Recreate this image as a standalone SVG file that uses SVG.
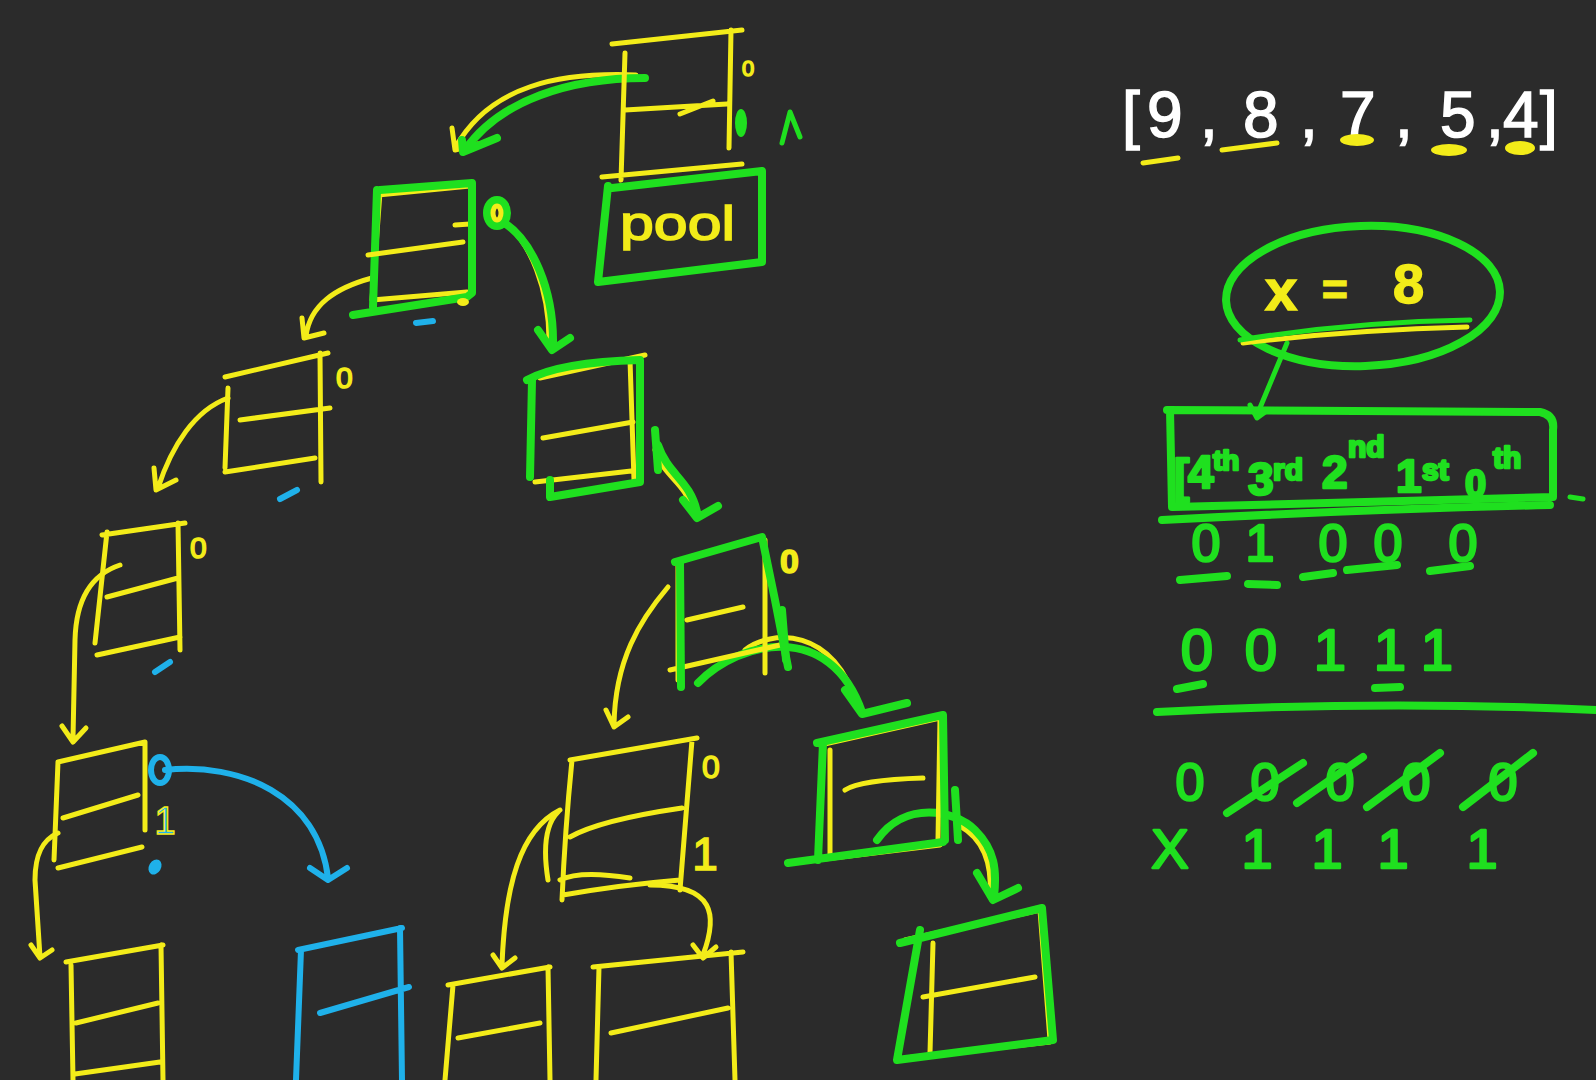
<svg xmlns="http://www.w3.org/2000/svg" width="1596" height="1080" viewBox="0 0 1596 1080">
<defs>
<style>
.y{fill:none;stroke:#f3ec19;stroke-width:5;stroke-linecap:round;stroke-linejoin:round}
.g{fill:none;stroke:#1fe01f;stroke-width:8;stroke-linecap:round;stroke-linejoin:round}
.gt{fill:none;stroke:#1fe01f;stroke-width:5;stroke-linecap:round;stroke-linejoin:round}
.b{fill:none;stroke:#1fb1ea;stroke-width:6;stroke-linecap:round;stroke-linejoin:round}
.ty{fill:#f3ec19;stroke:#f3ec19;stroke-width:1.5;font-family:"Liberation Sans","DejaVu Sans",sans-serif}
.tg{fill:#1fe01f;stroke:#1fe01f;stroke-width:2.5;stroke-linejoin:round;font-family:"Liberation Sans","DejaVu Sans",sans-serif}
.tb{fill:#1fb1ea;font-family:"Liberation Sans","DejaVu Sans",sans-serif}
.tw{fill:#ffffff;stroke:#ffffff;stroke-width:1.5;font-family:"Liberation Sans","DejaVu Sans",sans-serif}
.fy{fill:#f3ec19}.fg{fill:#1fe01f}.fb{fill:#1fb1ea}
</style>
</defs>
<rect width="1596" height="1080" fill="#2b2b2b"/>

<g id="connectors">
  <path class="y" d="M636 75 C560 72 490 85 455 148 M452 128 L455 150 L478 144"/>
  <path class="g" d="M645 78 C570 78 500 100 465 150 M462 140 L463 152 L497 138"/>
  <path class="y" d="M372 278 C335 288 310 305 306 336 M302 318 L304 338 L324 333"/>
  <path class="y" d="M503 222 C530 240 550 290 549 345"/>
  <path class="g" d="M503 222 C532 240 554 290 553 345 M538 330 L552 350 L570 338"/>
  <path class="y" d="M228 398 C195 410 172 445 158 488 M154 468 L156 490 L176 480"/>
  <path class="y" d="M655 450 C664 478 686 482 693 512"/>
  <path class="g" d="M658 445 C668 475 690 480 697 512 M683 500 L697 518 L718 506"/>
  <path class="y" d="M120 565 C90 575 76 600 75 640 L73 738 M62 726 L73 742 L86 728"/>
  <path class="y" d="M668 587 C640 620 615 660 614 725 M606 710 L614 727 L628 717"/>
  <path class="y" d="M745 650 C770 630 835 625 858 708"/>
  <path class="g" d="M698 683 C740 640 830 620 862 712 M845 690 L862 714 L907 703"/>
  <path class="y" d="M58 833 C42 840 35 855 35 880 L40 957 M31 945 L40 958 L52 950"/>
  <path class="b" d="M165 770 C240 762 318 795 328 878 M310 868 L328 880 L347 868"/>
  <path class="y" d="M560 810 C520 830 505 885 502 965 M493 955 L502 968 L515 958"/>
  <path class="y" d="M650 885 C715 885 718 915 703 955 M693 945 L703 958 L716 947"/>
  <path class="y" d="M960 826 C985 840 992 865 990 895"/>
  <path class="g" d="M877 840 C905 800 955 810 975 830 C995 850 997 870 994 897 M977 873 L993 900 L1018 888"/>
  <path class="gt" d="M1287 343 L1257 415 M1250 405 L1257 418 L1268 410"/>
</g>

<g id="node-root">
  <path class="y" d="M612 44 L742 30 M625 53 L621 180 M731 30 L729 148 M625 110 L727 104 M680 114 L713 101 M602 177 L742 164"/>
  <text class="ty" x="742" y="76" font-size="22" stroke-width="0.8">0</text>
  <ellipse class="fg" cx="741" cy="123" rx="6" ry="14"/>
  <path class="gt" d="M782 143 L790 112 L800 137"/>
</g>

<g id="node-pool">
  <path class="g" stroke-width="9" d="M612 188 L762 171 L762 262 L598 282 L608 186"/>
  <text class="ty" x="620" y="240" font-size="48" textLength="115" lengthAdjust="spacingAndGlyphs">pool</text>
</g>

<g id="node-a">
  <path class="y" d="M378 195 L470 186 M380 192 L372 300 M372 300 L467 292 M455 225 L470 224"/>
  <path class="g" stroke-width="9" d="M380 190 L472 183 L472 293 L467 297 L353 315 M377 190 L373 307"/>
  <path class="y" d="M368 255 L463 242"/>
  <ellipse class="g" cx="497" cy="213" rx="10" ry="13" stroke-width="7"/>
  <ellipse class="y" cx="497" cy="213" rx="4" ry="7" stroke-width="3"/>
  <path class="b" d="M416 323 L433 321" stroke-width="5"/>
  <ellipse class="fy" cx="463" cy="302" rx="6" ry="4"/>
</g>

<g id="node-b">
  <path class="y" d="M225 377 L328 353 M320 353 L321 482 M228 388 L225 468 M240 420 L330 408 M225 472 L315 458"/>
  <text class="ty" x="336" y="388" font-size="30">0</text>
  <path class="b" d="M280 499 L297 490" stroke-width="9"/>
</g>

<g id="node-c">
  <path class="y" d="M540 378 L645 355 M532 385 L530 477 M535 482 L640 470 M630 360 L634 480"/>
  <path class="g" stroke-width="9" d="M527 380 Q560 362 640 360 L640 482 L550 497 L550 480 M532 380 L530 477"/>
  <path class="y" d="M543 438 L633 422"/>
  <path class="g" stroke-width="12" d="M655 430 L658 470"/>
</g>

<g id="node-d">
  <path class="y" d="M102 535 L185 523 M178 523 L180 650 M107 532 L95 643 M107 597 L178 578 M97 655 L180 637"/>
  <text class="ty" x="190" y="558" font-size="30">0</text>
  <path class="b" d="M155 672 L170 662" stroke-width="9"/>
</g>

<g id="node-e">
  <path class="y" d="M675 562 L762 537 M678 565 L678 680 M670 670 L780 645 M765 540 L765 673"/>
  <path class="g" stroke-width="8" d="M675 562 L762 537 L775 600 L788 667 M680 562 L681 687"/>
  <path class="y" d="M687 620 L743 607"/>
  <path class="g" stroke-width="12" d="M782 610 L786 660"/>
  <text class="ty" x="780" y="573" font-size="34" font-weight="bold" stroke-width="3">0</text>
</g>

<g id="node-f">
  <path class="y" d="M58 762 L145 742 M145 742 L145 830 M58 762 L54 860 M63 818 L138 795 M58 868 L142 847"/>
  <ellipse class="b" cx="160" cy="770" rx="9" ry="13" stroke-width="6"/>
  <text class="tb" x="165" y="834" font-size="38" text-anchor="middle" stroke="#f3ec19" stroke-width="1.5">1</text>
  <ellipse class="fb" cx="155" cy="867" rx="6" ry="8" transform="rotate(30 155 867)"/>
</g>

<g id="node-g">
  <path class="y" d="M570 760 L697 738 M692 740 L680 890 M572 760 Q565 830 562 900 M570 837 Q600 820 682 808 M563 895 Q620 885 680 880 M560 880 Q580 870 630 878 M558 812 Q540 830 548 880"/>
  <text class="ty" x="702" y="778" font-size="32">0</text>
  <text class="ty" x="705" y="870" font-size="46" text-anchor="middle">1</text>
</g>

<g id="node-h">
  <path class="y" d="M820 745 L940 718 M940 718 L938 840 M830 750 L830 855 M800 862 L940 845"/>
  <path class="g" stroke-width="9" d="M817 743 L943 715 L945 840 M823 743 L818 860 M788 863 L943 842"/>
  <path class="y" d="M845 790 Q860 780 923 778"/>
  <path class="g" stroke-width="12" d="M955 790 L958 840"/>
</g>

<g id="node-i">
  <path class="y" d="M905 940 L1040 910 M933 943 L930 1053 M1040 910 L1050 1040 M905 1058 L1050 1042"/>
  <path class="g" stroke-width="9" d="M900 943 L1042 908 L1053 1040 L897 1060 L920 930"/>
  <path class="y" d="M923 997 L1035 977"/>
</g>

<g id="node-j">
  <path class="y" d="M66 962 L163 945 M161 945 L163 1080 M71 965 L73 1080 M76 1023 L158 1003 M75 1074 L160 1062"/>
</g>

<g id="node-k">
  <path class="b" stroke-width="5" d="M298 950 L402 928 M400 928 L402 1080 M301 950 L296 1080 M320 1013 L409 987"/>
</g>

<g id="node-l">
  <path class="y" d="M448 985 L550 967 M548 967 L550 1080 M453 985 L445 1080 M458 1038 L540 1023"/>
</g>

<g id="node-m">
  <path class="y" d="M593 967 L743 952 M731 952 L735 1080 M599 967 L596 1080 M611 1033 L728 1008"/>
</g>

<g id="node-array">
  <text class="tw" x="1122 1147 1200 1215 1243 1300 1315 1340 1395 1410 1440 1486 1503 1540" y="137" font-size="64">[9, 8, 7, 5,4]</text>
  <path class="y" stroke-width="6" d="M1143 163 L1178 158 M1222 150 L1277 143"/>
  <ellipse class="fy" cx="1357" cy="140" rx="17" ry="6"/>
  <ellipse class="fy" cx="1449" cy="150" rx="18" ry="6"/>
  <ellipse class="fy" cx="1520" cy="148" rx="15" ry="7"/>
</g>

<g id="node-x">
  <ellipse class="g" cx="1363" cy="296" rx="137" ry="70" transform="rotate(-2 1363 296)"/>
  <text class="ty" x="1265" y="310" font-size="58" font-weight="bold">x</text>
  <text class="ty" x="1322" y="305" font-size="44" font-weight="bold">=</text>
  <text class="ty" x="1393" y="303" font-size="56" font-weight="bold">8</text>
  <path class="y" stroke-width="7" d="M1243 343 Q1350 330 1467 327"/>
  <path class="gt" d="M1240 340 Q1350 322 1470 320"/>
</g>

<g id="node-bits">
  <path class="g" d="M1167 410 L1540 412 Q1555 415 1553 430 L1553 497 L1173 507 M1170 410 L1172 507"/>
  <text class="tg" font-size="46" font-weight="bold" stroke-width="0"><tspan x="1174" y="492">[</tspan><tspan x="1188" y="488">4</tspan><tspan x="1213" y="470" font-size="28">th</tspan><tspan x="1248" y="495">3</tspan><tspan x="1273" y="480" font-size="30">rd</tspan><tspan x="1322" y="488">2</tspan><tspan x="1348" y="457" font-size="30">nd</tspan><tspan x="1396" y="492">1</tspan><tspan x="1422" y="480" font-size="30">st</tspan><tspan x="1465" y="497" font-size="38">0</tspan><tspan x="1493" y="468" font-size="30">th</tspan></text>
  <path class="gt" d="M1570 497 L1583 499"/>
  <path class="g" stroke-width="6" d="M1162 520 Q1350 510 1550 505"/>
  <text class="tg" x="1206 1260 1333 1388 1463" y="561" font-size="52" text-anchor="middle">01000</text>
  <path class="g" stroke-width="6" d="M1180 580 L1227 576 M1248 584 L1277 585 M1303 577 L1333 573 M1347 570 L1397 565 M1430 571 L1470 566"/>
  <text class="tg" x="1197 1261 1330 1390 1437" y="670" font-size="58" text-anchor="middle">00111</text>
  <path class="g" stroke-width="7" d="M1177 689 L1203 684 M1375 688 L1400 687"/>
  <path class="g" stroke-width="6" d="M1157 712 Q1380 700 1596 710"/>
  <text class="tg" x="1190 1265 1340 1416 1503" y="800" font-size="52" text-anchor="middle">00000</text>
  <path class="g" stroke-width="6" d="M1227 813 L1303 763 M1297 803 L1363 757 M1367 807 L1440 753 M1463 807 L1533 753"/>
  <text class="tg" x="1170 1257 1327 1393 1482" y="868" font-size="56" text-anchor="middle">X1111</text>
</g>
</svg>
